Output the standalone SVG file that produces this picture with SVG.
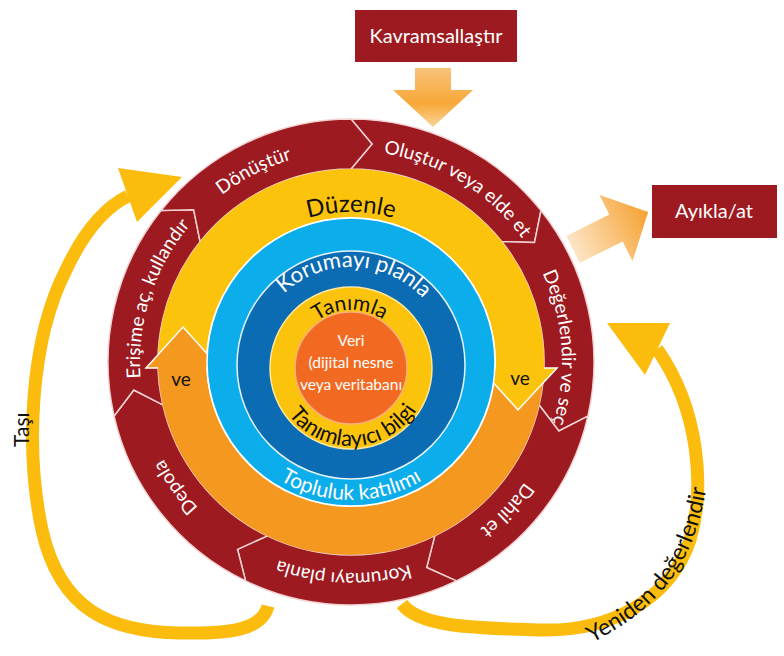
<svg xmlns="http://www.w3.org/2000/svg" width="784" height="656" viewBox="0 0 784 656">
<defs>
<style>
.t{font-family:Lato,"Liberation Sans",sans-serif}
.red{fill:#9d1a20}
.seg{fill:#9d1a20;stroke:#f2d2d2;stroke-width:1.5;stroke-linejoin:miter}
.rl{font-size:19px;fill:#fff}
.blk{fill:#111}
.wht{fill:#fff}
.flow{fill:none;stroke:#fbbc0e;stroke-width:13}
.head{fill:#fbbc0e}
</style>
<linearGradient id="gDown" x1="0" y1="68" x2="0" y2="127" gradientUnits="userSpaceOnUse">
<stop offset="0" stop-color="#f9c27a"/><stop offset="0.6" stop-color="#f7a836"/><stop offset="1" stop-color="#fbd49c"/>
</linearGradient>
<linearGradient id="gRight" x1="570" y1="252" x2="648" y2="212" gradientUnits="userSpaceOnUse">
<stop offset="0" stop-color="#fde8cc"/><stop offset="1" stop-color="#f6a232"/>
</linearGradient>
<path id="pDon" d="M 150.32 296.80 A 211 211 0 0 1 416.20 161.32"/>
<path id="pOlu" d="M 301.75 156.82 A 211 211 0 0 1 556.18 312.75"/>
<path id="pDeg" d="M 489.44 202.76 A 211 211 0 0 1 510.24 500.44"/>
<path id="pDah" d="M 561.93 356.48 A 211 211 0 0 1 356.52 572.93"/>
<path id="pKor" d="M 494.90 516.32 A 211 211 0 0 1 196.68 505.90"/>
<path id="pDep" d="M 316.18 570.11 A 211 211 0 0 1 142.89 327.18"/>
<path id="pEri" d="M 163.00 457.79 A 211 211 0 0 1 255.21 174.00"/>
<path id="pDuz" d="M 218.5 288.5 A 153 153 0 0 1 483.5 288.5"/>
<path id="pKP" d="M 255.14 344.62 A 98 98 0 0 1 448.05 351.36"/>
<path id="pTan" d="M 293.71 358.93 A 58 58 0 0 1 407.93 356.93"/>
<path id="pTB" d="M 274.70 384.22 A 78 78 0 0 0 428.24 378.86"/>
<path id="pTop" d="M 215.10 385.96 A 138 138 0 0 0 486.90 385.96"/>
<path id="pYen" d="M 592 643 C 650 612 702 572 710 455"/>
</defs>

<rect width="784" height="656" fill="#fff"/>

<g id="connectors">
  <g id="tasi">
    <path class="flow" d="M 268 606 C 262 630 230 634 180 633 C 110 632 60 610 42 530 C 25 450 30 340 66 270 C 80 240 100 210 128 196"/>
    <polygon class="head" points="118,168 182,177 137,222"/>
    <text class="t blk" font-size="21" transform="translate(29 447) rotate(-90)">Taşı</text>
  </g>
  <g id="yeniden">
    <path class="flow" d="M 402 604 C 420 628 480 628 540 630 C 610 632 670 600 690 540 C 705 490 700 410 657 349"/>
    <polygon class="head" points="607,323 670,323 645,375"/>
    <text class="t blk" font-size="23"><textPath href="#pYen">Yeniden değerlendir</textPath></text>
  </g>
  <polygon id="arrow-kavram" fill="url(#gDown)" points="415,68 451,68 451,90 473,90 433,127 393,90 415,90"/>
  <polygon id="arrow-ayikla" fill="url(#gRight)" points="566.4,236.1 609.3,214.6 599.5,194.9 648.2,211.9 632.5,261.1 622.7,241.4 579.8,262.9"/>
</g>

<g id="kavramsallastir">
  <rect class="red" x="355" y="10" width="162" height="52"/>
  <text class="t wht" font-size="20" x="436" y="43" text-anchor="middle">Kavramsallaştır</text>
</g>
<g id="ayikla">
  <rect class="red" x="652" y="185" width="125" height="53"/>
  <text class="t wht" font-size="20" x="714" y="218" text-anchor="middle">Ayıkla/at</text>
</g>

<g id="seg-olustur">
  <path class="seg" d="M 351 119 A 243 243 0 0 1 540.98 210.49 L 534.51 242.49 L 501.89 241.67 A 193 193 0 0 0 351 169 L 371.99 144.01 Z"/>
  <text class="t rl"><textPath href="#pOlu" startOffset="50%" text-anchor="middle">Oluştur veya elde et</textPath></text>
</g>
<g id="seg-degerlendir">
  <path class="seg" d="M 540.98 210.49 A 243 243 0 0 1 587.91 416.07 L 558.86 430.97 L 539.16 404.95 A 193 193 0 0 0 501.89 241.67 L 534.51 242.49 Z"/>
  <text class="t rl"><textPath href="#pDeg" startOffset="50%" text-anchor="middle">Değerlendir ve seç</textPath></text>
</g>
<g id="seg-dahil">
  <path class="seg" d="M 587.91 416.07 A 243 243 0 0 1 456.43 580.94 L 426.67 567.51 L 434.74 535.89 A 193 193 0 0 0 539.16 404.95 L 558.86 430.97 Z"/>
  <text class="t rl"><textPath href="#pDah" startOffset="50%" text-anchor="middle">Dahil et</textPath></text>
</g>
<g id="seg-koruma">
  <path class="seg" d="M 456.43 580.94 A 243 243 0 0 1 245.57 580.94 L 237.52 549.30 L 267.26 535.89 A 193 193 0 0 0 434.74 535.89 L 426.67 567.51 Z"/>
  <text class="t rl"><textPath href="#pKor" startOffset="50%" text-anchor="middle">Korumayı planla</textPath></text>
</g>
<g id="seg-depola">
  <path class="seg" d="M 245.57 580.94 A 243 243 0 0 1 114.09 416.07 L 133.80 390.04 L 162.84 404.95 A 193 193 0 0 0 267.26 535.89 L 237.52 549.30 Z"/>
  <text class="t rl"><textPath href="#pDep" startOffset="50%" text-anchor="middle">Depola</textPath></text>
</g>
<g id="seg-erisim">
  <path class="seg" d="M 114.09 416.07 A 243 243 0 0 1 161.02 210.49 L 193.66 209.67 L 200.11 241.67 A 193 193 0 0 0 162.84 404.95 L 133.80 390.04 Z"/>
  <text class="t rl"><textPath href="#pEri" startOffset="50%" text-anchor="middle">Erişime aç, kullandır</textPath></text>
</g>
<g id="seg-donustur">
  <path class="seg" d="M 161.02 210.49 A 243 243 0 0 1 351 119 L 371.99 144.01 L 351 169 A 193 193 0 0 0 200.11 241.67 L 193.66 209.67 Z"/>
  <text class="t rl"><textPath href="#pDon" startOffset="50%" text-anchor="middle">Dönüştür</textPath></text>
</g>

<g id="duzenle">
  <path fill="#fcc30d" d="M 158.09 368 A 193 193 0 1 1 543.91 368 L 495.88 368 A 145 145 0 1 0 206.12 368 Z"/>
  <path fill="#f5981f" d="M 543.91 368 A 193 193 0 0 1 158.09 368 L 206.12 368 A 145 145 0 0 0 495.88 368 Z"/>
  <polygon fill="#fcc30d" points="480,368 557,368 518,410"/>
  <path fill="none" stroke="#fff" stroke-width="1.5" d="M 495.9 368 L 480 368 L 518 410 L 557 368 L 543.9 368"/>
  <polygon fill="#f5981f" points="146,368 220,368 183,327"/>
  <path fill="none" stroke="#fff" stroke-width="1.5" d="M 158.1 368 L 146 368 L 183 327 L 220 368 L 206.1 368"/>
  <text class="t blk" font-size="24"><textPath href="#pDuz" startOffset="50%" text-anchor="middle">Düzenle</textPath></text>
  <text class="t blk" font-size="19" x="181" y="386" text-anchor="middle">ve</text>
  <text class="t blk" font-size="19" x="520" y="385" text-anchor="middle">ve</text>
</g>

<g id="topluluk">
  <circle cx="351" cy="362" r="144" fill="#0badea" stroke="#fff" stroke-width="1.5"/>
  <text class="t wht" font-size="21"><textPath href="#pTop" startOffset="50%" text-anchor="middle">Topluluk katılımı</textPath></text>
</g>
<g id="koruma-plan">
  <circle cx="351" cy="365" r="114" fill="#0b6bb3" stroke="#e8f4fb" stroke-width="1.5"/>
  <text class="t wht" font-size="22"><textPath href="#pKP" startOffset="50%" text-anchor="middle">Korumayı planla</textPath></text>
</g>
<g id="tanimla">
  <circle cx="351" cy="368" r="81" fill="#fcc30d" stroke="#fbe7a0" stroke-width="1.5"/>
  <text class="t blk" font-size="21"><textPath href="#pTan" startOffset="50%" text-anchor="middle">Tanımla</textPath></text>
</g>
<g id="veri">
  <circle cx="351" cy="368" r="56" fill="#f26a22" stroke="#f8b07a" stroke-width="1.5"/>
  <text class="t wht" font-size="15.5" text-anchor="middle"><tspan x="351" y="346">Veri</tspan><tspan x="351" y="368">(dijital nesne</tspan><tspan x="351" y="390">veya veritabanı</tspan></text>
  <text class="t blk" font-size="22"><textPath href="#pTB" startOffset="50%" text-anchor="middle">Tanımlayıcı bilgi</textPath></text>
</g>
</svg>
